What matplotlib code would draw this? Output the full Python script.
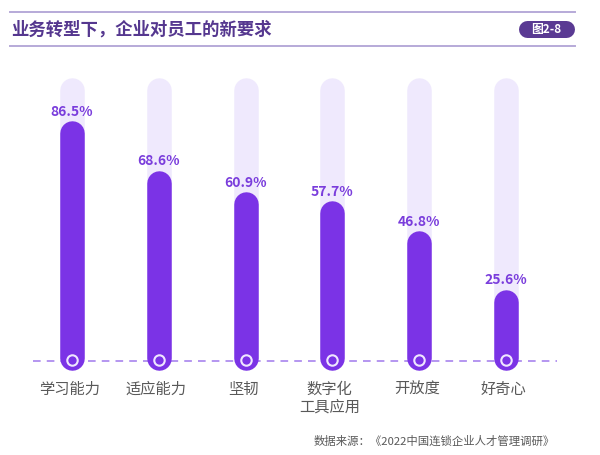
import matplotlib.pyplot as plt
from matplotlib.lines import Line2D

plt.rcParams['font.family'] = ['Noto Sans CJK SC', 'DejaVu Sans']

categories = ['学习能力', '适应能力', '坚韧', '数字化\n工具应用', '开放度', '好奇心']
values = [86.5, 68.6, 60.9, 57.7, 46.8, 25.6]
track_max = 102
title = '业务转型下，企业对员工的新要求'
badge = '图2-8'
source = '数据来源：《2022中国连锁企业人才管理调研》'

bar_color = '#7b33e6'
track_color = '#efe9fd'
label_color = '#7a3ddc'
text_gray = '#595959'
title_color = '#55378f'

W, H, DPI = 600, 456, 100
fig = plt.figure(figsize=(W / DPI, H / DPI), dpi=DPI)

# pixel helpers for figure coords (top-left origin)
def fx(px):
    return px / W

def fy(py):
    return 1 - py / H

# header
for py in (13, 47):
    fig.add_artist(Line2D([fx(10), fx(575)], [fy(py), fy(py)], color='#b7aad8', lw=1.4))
fig.text(fx(11), fy(30), title, fontsize=12.5, fontweight='bold', color=title_color,
         ha='left', va='center')
fig.add_artist(Line2D([fx(527), fx(566)], [fy(29.5), fy(29.5)], color='#5a3a93',
                      lw=17 * 72 / DPI, solid_capstyle='round'))
fig.text(fx(546.5), fy(29.5), badge, fontsize=8.5, fontweight='bold', color='white',
         ha='center', va='center')

# chart axes: baseline at 361px, 2.763 px per percent, 86.8 px per category
px_per_unit = 2.763
step = 86.8
ylo, yhi = -10, 105
ax_h = (yhi - ylo) * px_per_unit
ax_bottom = (H - 361) - (0 - ylo) * px_per_unit
ax_left = 72 - step / 2
ax = fig.add_axes([ax_left / W, ax_bottom / H, step * 6 / W, ax_h / H])
ax.set_xlim(-0.5, 5.5)
ax.set_ylim(ylo, yhi)
ax.axis('off')

lw_px = 24.5
r = (lw_px / 2) / px_per_unit
bottom_vis = -10 / px_per_unit
x = list(range(len(categories)))

for i, v in zip(x, values):
    ax.plot([i, i], [bottom_vis + r, track_max - r], color=track_color,
            lw=lw_px * 72 / DPI, solid_capstyle='round', zorder=1)
    ax.plot([i, i], [bottom_vis + r, v - r], color=bar_color,
            lw=lw_px * 72 / DPI, solid_capstyle='round', zorder=2)
    ax.text(i, v + 10 / px_per_unit, f'{v:.1f}%', ha='center', va='center',
            fontsize=10, fontweight='bold', color=label_color, zorder=4)
    ax.text(i - 0.03, -20 / px_per_unit, categories[i], ha='center', va='top',
            fontsize=11, color=text_gray, linespacing=1.05, multialignment='center')

# dashed baseline
x0 = (33 - 72) / step
x1 = (557 - 72) / step
ax.plot([x0, x1], [-1 / px_per_unit, -1 / px_per_unit], color='#a079ec', lw=1.1,
        dashes=(5, 4), zorder=1.5, clip_on=False)
ax.plot(x, [0] * len(x), 'o', ms=7.5, mfc='none', mec='#efe6ff', mew=1.5, zorder=3)

fig.text(fx(555), fy(441), source, fontsize=8.2, color=text_gray, ha='right', va='center')

fig.savefig('out.png', dpi=DPI)
